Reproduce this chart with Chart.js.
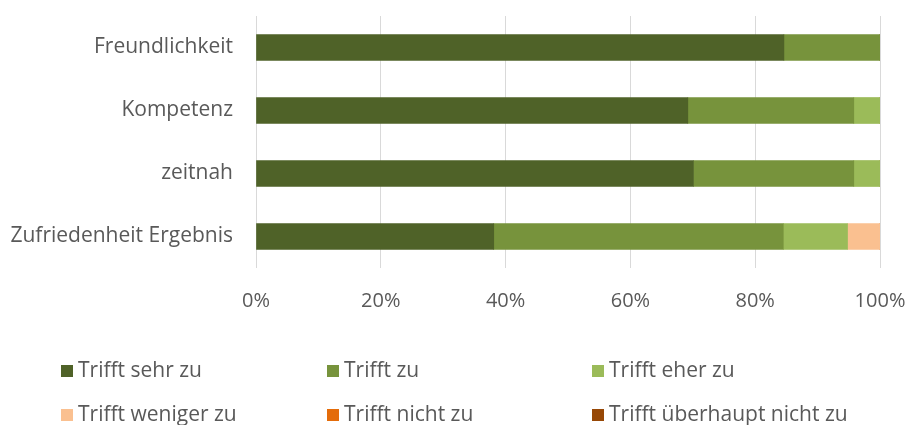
<!DOCTYPE html>
<html>
<head>
<meta charset="utf-8">
<script src="https://cdn.jsdelivr.net/npm/chart.js@4"></script>
<style>
html,body{margin:0;padding:0;background:#fff;}
#wrap{position:relative;width:910px;height:425px;}
#c{position:absolute;left:0;top:0;}
.lg{position:absolute;font-family:"Open Sans", Lato, sans-serif;font-size:21px;color:#595959;white-space:nowrap;line-height:22px;}
.lg span.b{display:inline-block;width:12px;height:12px;margin-right:5px;vertical-align:0px;}
</style>
</head>
<body>
<div id="wrap">
<canvas id="c" width="910" height="425"></canvas>
<div id="legend"></div>
</div>
<script>
const categories = ["Freundlichkeit", "Kompetenz", "zeitnah", "Zufriedenheit Ergebnis"];
const seriesNames = ["Trifft sehr zu", "Trifft zu", "Trifft eher zu", "Trifft weniger zu", "Trifft nicht zu", "Trifft überhaupt nicht zu"];
const sehrZu = [84.6, 69.2, 70.1, 38.1];
const zu = [15.4, 26.6, 25.7, 46.4];
const eherZu = [0, 4.2, 4.2, 10.3];
const wenigerZu = [0, 0, 0, 5.2];
const nichtZu = [0, 0, 0, 0];
const ueberhauptNichtZu = [0, 0, 0, 0];
const tickLabels = ["0%", "20%", "40%", "60%", "80%", "100%"];

const colors = ["#4F6228", "#77933C", "#9BBB59", "#FAC090", "#E46C0A", "#974806"];
const values = [sehrZu, zu, eherZu, wenigerZu, nichtZu, ueberhauptNichtZu];

const FONT = "'Open Sans', Lato, sans-serif";
const datasets = seriesNames.map((n, i) => ({
  label: n,
  data: values[i],
  backgroundColor: colors[i],
  borderWidth: 0,
  barThickness: 26
}));

new Chart(document.getElementById('c'), {
  type: 'bar',
  data: { labels: categories, datasets },
  options: {
    indexAxis: 'y',
    responsive: false,
    animation: false,
    layout: { padding: { top: 16, right: 30, left: 0, bottom: 0 } },
    plugins: { legend: { display: false }, tooltip: { enabled: false } },
    scales: {
      x: {
        stacked: true, min: 0, max: 100,
        grid: { color: '#D9D9D9', lineWidth: 1, drawTicks: false },
        border: { display: false },
        ticks: {
          stepSize: 20, padding: 21, color: '#595959',
          font: { family: FONT, size: 20 },
          callback: (v) => tickLabels[Math.round(v / 20)]
        },
        afterFit: (s) => { s.height = 425 - 268; s.paddingLeft = 0; s.paddingRight = 0; }
      },
      y: {
        stacked: true,
        grid: { display: false, drawTicks: false },
        border: { display: false },
        ticks: { padding: 23, color: '#595959', font: { family: FONT, size: 21 } },
        afterFit: (s) => { s.width = 256; s.paddingTop = 0; s.paddingBottom = 0; }
      }
    }
  }
});

const pos = [[61, 358], [327, 358], [592, 358], [61, 402], [327, 402], [592, 402]];
const lg = document.getElementById('legend');
seriesNames.forEach((n, i) => {
  const d = document.createElement('div');
  d.className = 'lg';
  d.style.left = pos[i][0] + 'px';
  d.style.top = pos[i][1] + 'px';
  d.innerHTML = '<span class="b" style="background:' + colors[i] + '"></span>' + n;
  lg.appendChild(d);
});
</script>
</body>
</html>
